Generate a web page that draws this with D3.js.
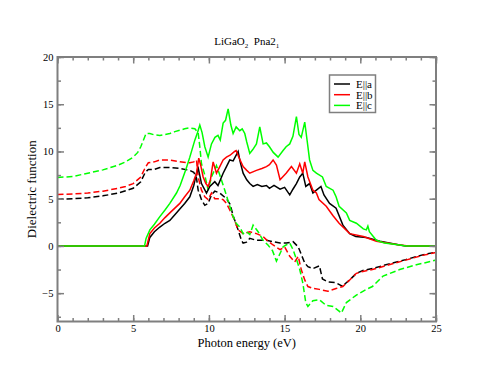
<!DOCTYPE html>
<html>
<head>
<meta charset="utf-8">
<script src="https://cdn.jsdelivr.net/npm/d3@7"></script>
<style>
  body { margin: 0; background: #fff; }
  svg text { font-family: "Liberation Serif", "Times New Roman", serif; fill: #000; }
</style>
</head>
<body>
<svg id="chart"></svg>
<script>
// imaginary parts (solid) and real parts (dashed), [energy eV, value]
var imA = [[0,0],[5.95,0],[6.1,0.9],[6.4,1.5],[6.76,2.0],[7.1,2.4],[7.42,2.7],[7.75,3.3],[8.08,3.9],[8.4,4.5],[8.74,5.2],[9.0,6.4],[9.18,7.7],[9.3,8.2],[9.51,6.6],[9.84,5.6],[10.06,6.3],[10.39,6.8],[10.6,6.4],[10.94,7.7],[11.16,8.4],[11.38,9.1],[11.6,9.0],[11.93,10.0],[12.05,9.0],[12.26,7.7],[12.5,7.0],[12.7,6.6],[12.92,6.3],[13.2,6.5],[13.5,6.3],[13.8,6.4],[14.0,6.1],[14.3,6.4],[14.7,6.0],[15.0,6.2],[15.34,5.4],[15.55,6.0],[15.78,6.6],[16.0,7.3],[16.2,7.7],[16.4,6.3],[16.65,6.6],[16.87,5.6],[17.1,5.9],[17.4,6.3],[17.6,5.4],[17.97,4.5],[18.4,4.0],[18.85,2.2],[19.3,1.3],[19.7,1.0],[20.4,0.9],[21.3,0.5],[22.6,0.1],[23,0],[25,0]];
var imB = [[0,0],[5.9,0],[6.1,1.3],[6.4,1.9],[6.76,2.4],[7.1,3.0],[7.42,3.5],[7.75,4.0],[8.08,4.5],[8.4,5.2],[8.74,5.9],[9.0,6.9],[9.18,7.7],[9.33,9.3],[9.45,8.6],[9.62,7.3],[9.8,6.6],[9.95,6.3],[10.1,7.0],[10.28,8.9],[10.5,7.7],[10.72,8.4],[10.94,9.1],[11.16,9.4],[11.4,9.6],[11.7,10.0],[11.8,10.1],[11.95,9.5],[12.26,8.4],[12.5,8.0],[12.7,7.7],[13.14,8.0],[13.5,8.2],[13.8,8.4],[14.0,8.6],[14.24,9.1],[14.46,8.55],[14.7,7.0],[15.1,7.7],[15.45,8.4],[15.78,7.7],[16.0,8.7],[16.2,7.7],[16.33,8.9],[16.54,7.3],[16.87,5.9],[17.1,5.6],[17.27,4.9],[17.75,4.2],[18.2,3.2],[18.6,2.4],[19.3,1.3],[20.2,1.0],[21.06,0.5],[22.6,0.1],[23.2,0],[25,0]];
var imC = [[0,0],[5.75,0],[5.85,0.8],[6.1,1.7],[6.4,2.3],[6.76,3.1],[7.1,3.8],[7.42,4.5],[7.86,5.6],[8.1,6.4],[8.3,7.3],[8.5,8.2],[8.74,9.4],[9.07,11.2],[9.25,12.0],[9.4,12.8],[9.55,12.0],[9.73,10.5],[9.95,9.4],[10.17,10.8],[10.4,11.5],[10.6,11.7],[10.75,11.2],[10.94,13.0],[11.1,13.3],[11.27,14.5],[11.45,12.8],[11.6,11.9],[11.8,12.6],[12.04,12.2],[12.2,12.4],[12.37,11.9],[12.5,11.0],[12.7,9.8],[12.9,10.2],[13.14,10.8],[13.36,12.6],[13.58,10.8],[13.8,10.9],[14.0,10.5],[14.25,9.9],[14.57,9.4],[14.9,10.1],[15.1,10.5],[15.34,10.8],[15.55,11.6],[15.78,13.7],[15.95,11.8],[16.1,11.5],[16.33,13.1],[16.5,11.0],[16.65,9.1],[16.87,8.0],[17.1,7.7],[17.5,7.3],[17.75,6.3],[18.2,5.9],[18.4,5.2],[18.6,4.2],[19.08,3.5],[19.3,2.7],[19.74,2.4],[20.2,1.8],[20.4,1.7],[20.5,2.1],[20.6,1.5],[21.06,0.6],[21.6,0.3],[22.6,0.1],[23,0],[25,0]];

var reA = [[0,4.95],[1,5.0],[2,5.1],[3,5.3],[4,5.6],[4.5,5.85],[5,6.1],[5.5,6.8],[5.8,7.8],[6.0,8.1],[6.4,8.1],[6.76,8.3],[7.42,8.3],[8.08,8.2],[8.74,8.0],[9.0,7.8],[9.18,7.2],[9.29,5.9],[9.51,4.9],[9.73,4.3],[9.95,4.5],[10.17,5.4],[10.39,5.8],[10.72,5.6],[11.16,5.0],[11.4,4.4],[11.6,3.2],[11.93,1.7],[12.15,0.6],[12.26,0.3],[12.48,0.4],[12.7,0.8],[13.14,0.6],[13.8,0.6],[14.24,0.45],[14.7,0.3],[15.12,0.3],[15.56,0.45],[15.9,-0.1],[16.1,-0.9],[16.33,-1.8],[16.54,-2.2],[16.87,-2.4],[17.3,-2.1],[17.5,-3.5],[17.86,-3.8],[18.4,-3.9],[18.85,-4.3],[19.0,-4.0],[19.3,-3.6],[19.74,-2.9],[20.17,-2.6],[20.8,-2.4],[21.9,-1.9],[23.0,-1.45],[24.1,-0.95],[25,-0.65]];
var reB = [[0,5.45],[1,5.5],[2,5.6],[3,5.8],[4,6.1],[4.5,6.3],[5,6.6],[5.5,7.3],[5.8,8.3],[6.0,8.8],[6.4,8.9],[6.76,9.1],[7.42,9.1],[8.08,8.9],[8.74,8.8],[9.0,8.9],[9.18,9.1],[9.29,7.3],[9.51,5.9],[9.73,5.2],[9.95,4.9],[10.17,5.6],[10.39,5.0],[10.72,5.0],[10.94,4.9],[11.16,4.5],[11.38,3.8],[11.7,2.7],[11.93,1.7],[12.26,1.3],[12.7,1.5],[13.14,1.3],[13.58,1.0],[13.9,0.5],[14.24,0.1],[14.7,-0.4],[15.0,-0.1],[15.34,-1.1],[15.67,-1.7],[15.9,-1.1],[16.1,-2.5],[16.33,-3.6],[16.54,-4.3],[16.87,-4.5],[17.3,-4.6],[17.86,-4.8],[18.4,-4.5],[18.85,-4.3],[19.3,-3.6],[19.74,-2.9],[20.17,-2.7],[20.8,-2.5],[21.9,-2.0],[23.0,-1.5],[24.1,-1.0],[25,-0.7]];
var reC = [[0,7.25],[1,7.35],[2,7.7],[3,8.05],[4,8.55],[4.5,8.9],[5,9.4],[5.3,9.9],[5.5,10.5],[5.7,11.3],[5.85,11.9],[6.1,11.9],[6.4,11.75],[6.76,11.7],[7.1,11.8],[7.42,11.9],[7.75,12.1],[8.08,12.25],[8.4,12.4],[8.74,12.5],[9.07,12.4],[9.29,12.0],[9.4,10.5],[9.51,8.7],[9.73,7.5],[9.95,5.9],[10.17,7.3],[10.5,8.5],[10.72,7.5],[11.05,5.9],[11.38,4.2],[11.6,3.1],[11.8,2.4],[12.04,2.0],[12.26,1.3],[12.48,1.5],[12.7,1.2],[12.92,2.2],[13.25,1.5],[13.58,0.6],[13.9,0.1],[14.2,-0.5],[14.46,-1.6],[14.7,-0.8],[14.9,-0.1],[15.1,0.1],[15.34,0.3],[15.56,-0.4],[15.8,-1.5],[16.0,-2.5],[16.2,-3.9],[16.4,-6.0],[16.54,-6.4],[16.87,-5.8],[17.3,-5.7],[17.75,-6.3],[18.2,-6.4],[18.6,-6.9],[18.75,-7.1],[19.08,-6.0],[19.74,-5.2],[20.4,-4.6],[20.8,-4.3],[21.5,-3.2],[22.6,-2.5],[23.7,-2.0],[25,-1.5]];

var legendLabels = ["E||a", "E||b", "E||c"];
var colors = ["#000000", "#ff0000", "#00ff00"];
var xTicks = [0, 5, 10, 15, 20, 25];
var yTicks = [-5, 0, 5, 10, 15, 20];

var w = 491, h = 379;
var margin = { top: 57, bottom: 57.5, left: 57.5, right: 55 };

var svg = d3.select("#chart").attr("width", w).attr("height", h);

var x = d3.scaleLinear().domain([0, 25]).range([margin.left, w - margin.right]);
var y = d3.scaleLinear().domain([-8, 20]).range([h - margin.bottom, margin.top]);

var line = d3.line()
  .x(function(d) { return x(d[0]); })
  .y(function(d) { return y(d[1]); });

var plot = svg.append("g");
var reals = [reA, reB, reC];
var imags = [imA, imB, imC];

reals.forEach(function(s, i) {
  plot.append("path").datum(s)
    .attr("d", line)
    .attr("fill", "none")
    .attr("stroke", colors[i])
    .attr("stroke-width", 1.5)
    .attr("stroke-dasharray", "6,3");
});
imags.forEach(function(s, i) {
  plot.append("path").datum(s)
    .attr("d", line)
    .attr("fill", "none")
    .attr("stroke", colors[i])
    .attr("stroke-width", 1.5);
});

// axes: major ticks with labels, minor ticks without
function styleAxis(g) {
  g.select(".domain").remove();
  g.selectAll("line").attr("stroke", "#7f7f7f").attr("stroke-width", 1.5);
  g.selectAll("text").attr("font-size", 10.5).attr("font-family", "Liberation Serif, serif");
}
function noText(g) {
  g.select(".domain").remove();
  g.selectAll("text").remove();
  g.selectAll("line").attr("stroke", "#7f7f7f").attr("stroke-width", 1.5);
}
var xMinor = d3.range(0, 26, 1);
var yMinor = d3.range(-7.5, 20.1, 2.5);

svg.append("g").attr("transform", "translate(0," + (h - margin.bottom) + ")")
  .call(d3.axisBottom(x).tickValues(xMinor).tickSize(-3.5))
  .call(noText);
svg.append("g").attr("transform", "translate(0," + (h - margin.bottom) + ")")
  .call(d3.axisBottom(x).tickValues(xTicks).tickSize(-6.5).tickPadding(3))
  .call(styleAxis);
svg.append("g").attr("transform", "translate(0," + margin.top + ")")
  .call(d3.axisTop(x).tickValues(xMinor).tickSize(-3.5))
  .call(noText);
svg.append("g").attr("transform", "translate(0," + margin.top + ")")
  .call(d3.axisTop(x).tickValues(xTicks).tickSize(-6.5))
  .call(noText);
svg.append("g").attr("transform", "translate(" + margin.left + ",0)")
  .call(d3.axisLeft(y).tickValues(yMinor).tickSize(-3.5))
  .call(noText);
svg.append("g").attr("transform", "translate(" + margin.left + ",0)")
  .call(d3.axisLeft(y).tickValues(yTicks).tickSize(-6.5).tickPadding(4))
  .call(styleAxis);
svg.append("g").attr("transform", "translate(" + (w - margin.right) + ",0)")
  .call(d3.axisRight(y).tickValues(yMinor).tickSize(-3.5))
  .call(noText);
svg.append("g").attr("transform", "translate(" + (w - margin.right) + ",0)")
  .call(d3.axisRight(y).tickValues(yTicks).tickSize(-6.5))
  .call(noText);

svg.append("rect")
  .attr("x", margin.left).attr("y", margin.top)
  .attr("width", w - margin.right - margin.left)
  .attr("height", h - margin.bottom - margin.top)
  .attr("fill", "none").attr("stroke", "#7f7f7f").attr("stroke-width", 2);

// title with subscripts
var title = svg.append("text")
  .attr("x", (margin.left + w - margin.right) / 2).attr("y", 45)
  .attr("text-anchor", "middle").attr("font-size", 11);
title.append("tspan").text("LiGaO");
title.append("tspan").attr("font-size", 7).attr("dy", 3).text("2");
title.append("tspan").attr("dy", -3).text("\u00a0 Pna2");
title.append("tspan").attr("font-size", 7).attr("dy", 3).text("1");

svg.append("text")
  .attr("x", (margin.left + w - margin.right) / 2).attr("y", 347)
  .attr("text-anchor", "middle").attr("font-size", 12.5)
  .text("Photon energy (eV)");

svg.append("text")
  .attr("transform", "translate(36," + ((margin.top + h - margin.bottom) / 2) + ") rotate(-90)")
  .attr("text-anchor", "middle").attr("font-size", 13)
  .text("Dielectric function");

// legend
var lg = svg.append("g");
lg.append("rect")
  .attr("x", 329.5).attr("y", 75).attr("width", 46).attr("height", 37.5)
  .attr("fill", "#fff").attr("stroke", "#7f7f7f").attr("stroke-width", 1.5);
legendLabels.forEach(function(l, i) {
  var ly = 84 + i * 10.7;
  lg.append("line").attr("x1", 334).attr("x2", 350).attr("y1", ly).attr("y2", ly)
    .attr("stroke", colors[i]).attr("stroke-width", 1.5);
  lg.append("text").attr("x", 356).attr("y", ly + 4)
    .attr("font-size", 11)
    .text(l);
});
</script>
</body>
</html>
